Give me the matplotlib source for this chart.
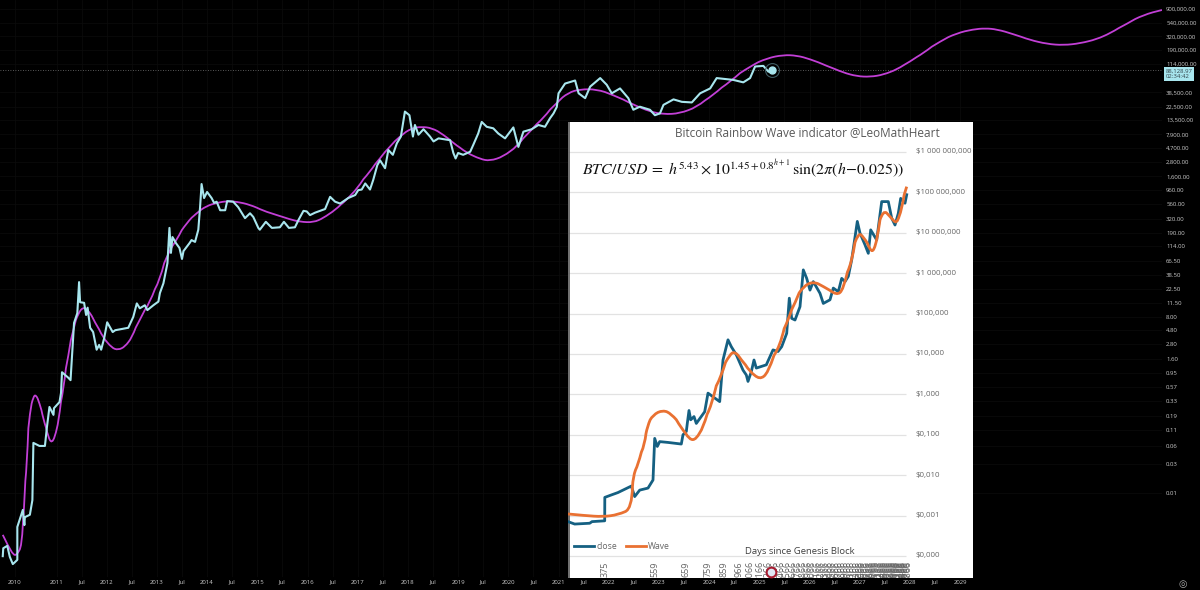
import numpy as np
import matplotlib
matplotlib.use("Agg")
import matplotlib.pyplot as plt
from matplotlib.patches import PathPatch
from matplotlib.path import Path
from matplotlib.transforms import blended_transform_factory

plt.rcParams['font.family'] = ['Open Sans', 'DejaVu Sans']

# main chart: btc close, decimal year / log10 of price
close_year = [2009.93,2009.94,2010.02,2010.07,2010.13,2010.17,2010.22,2010.22,2010.33,2010.36,2010.37,2010.47,2010.52,2010.54,2010.66,2010.77,2010.81,2010.86,2010.94,2010.95,
    2011.06,2011.09,2011.11,2011.235,2011.28,2011.35,2011.415,2011.45,2011.47,2011.55,2011.59,2011.62,2011.67,2011.73,2011.80,2011.85,2011.89,2011.95,
    2012.01,2012.12,2012.17,2012.43,2012.53,2012.60,2012.66,2012.76,2012.81,2012.93,
    2013.03,2013.06,2013.13,2013.21,2013.25,2013.28,2013.31,2013.38,2013.45,2013.50,2013.53,2013.65,2013.69,2013.76,2013.825,2013.86,2013.89,2013.94,
    2014.00,2014.09,2014.14,2014.19,2014.26,2014.36,2014.40,2014.52,2014.62,2014.755,2014.855,2014.92,
    2015.02,2015.05,2015.17,2015.29,2015.45,2015.53,2015.63,2015.75,2015.82,2015.92,2015.985,
    2016.05,2016.15,2016.35,2016.45,2016.55,2016.65,2016.81,2016.95,
    2017.01,2017.08,2017.15,2017.245,2017.31,2017.39,2017.445,2017.545,2017.61,2017.70,2017.78,2017.86,2017.94,
    2018.03,2018.10,2018.14,2018.21,2018.31,2018.44,2018.51,2018.61,2018.84,2018.905,2018.95,
    2019.00,2019.10,2019.24,2019.30,2019.40,2019.47,2019.57,2019.70,2019.80,2019.935,
    2020.10,2020.20,2020.30,2020.465,2020.60,2020.73,2020.83,2020.90,2020.965,
    2021.00,2021.13,2021.33,2021.40,2021.53,2021.63,2021.83,2021.96,
    2022.06,2022.225,2022.39,2022.49,2022.62,2022.82,2022.92,
    2023.02,2023.09,2023.29,2023.455,2023.655,2023.82,
    2024.02,2024.15,2024.48,2024.68,2024.815,2024.915,
    2025.08,2025.18,2025.25]
close_log = [-3.03,-2.90,-2.86,-3.04,-3.16,-3.13,-3.09,-2.55,-2.27,-2.52,-2.39,-2.35,-2.11,-1.17,-1.22,-1.22,-0.91,-0.58,-0.71,-0.60,
    -0.50,-0.35,-0.01,-0.10,-0.14,0.80,0.96,1.47,1.14,1.13,0.93,1.05,0.72,0.65,0.36,0.44,0.36,0.55,
    0.81,0.65,0.68,0.72,0.90,1.12,1.04,1.09,1.01,1.09,
    1.15,1.29,1.45,1.78,2.36,1.95,2.21,2.11,2.03,1.85,1.98,2.11,2.16,2.13,2.33,2.70,3.08,2.85,
    2.95,2.85,2.77,2.79,2.65,2.65,2.80,2.79,2.70,2.52,2.60,2.54,
    2.36,2.33,2.46,2.36,2.37,2.46,2.36,2.37,2.49,2.64,2.63,
    2.57,2.61,2.67,2.87,2.79,2.76,2.85,2.90,
    2.98,2.99,3.09,2.99,3.15,3.39,3.47,3.34,3.64,3.56,3.75,3.86,4.27,
    4.21,3.86,4.05,3.89,3.98,3.86,3.78,3.83,3.80,3.59,3.50,
    3.59,3.56,3.61,3.72,3.91,4.10,4.02,3.995,3.91,3.83,
    4.01,3.69,3.94,3.98,4.05,4.02,4.16,4.24,4.345,
    4.57,4.73,4.78,4.57,4.49,4.68,4.82,4.71,
    4.57,4.65,4.49,4.30,4.35,4.30,4.21,
    4.24,4.38,4.47,4.43,4.42,4.57,
    4.65,4.82,4.79,4.75,4.82,5.01,
    5.02,4.925,4.945]

wave_year = [2009.93,2010.04,2010.14,2010.21,2010.31,2010.35,2010.41,2010.47,2010.54,2010.59,2010.66,2010.74,2010.84,2010.905,2010.97,
    2011.04,2011.14,2011.235,2011.335,2011.435,2011.535,2011.63,2011.77,2011.93,2012.10,2012.23,2012.365,2012.50,2012.66,2012.86,
    2013.06,2013.23,2013.395,2013.595,2013.79,2013.99,2014.19,2014.39,2014.59,2014.855,2015.12,2015.39,2015.65,2015.85,
    2016.12,2016.315,2016.55,2016.78,2016.98,2017.245,2017.445,2017.64,2017.84,2018.08,2018.275,2018.475,2018.705,2018.905,
    2019.17,2019.44,2019.635,2019.90,2020.17,2020.43,2020.70,2020.965,2021.195,2021.43,2021.76,2022.09,2022.49,2022.82,
    2023.09,2023.42,2023.75,2024.08,2024.42,2024.815,2025.15,2025.48,2025.745,2026.01,2026.34,2026.67,2026.94,
    2027.21,2027.47,2027.74,2028.00,2028.27,2028.60,2028.93,2029.26,2029.50,2029.73,2030.06,2030.39,2030.73,
    2031.06,2031.39,2031.72,2031.99,2032.32,2032.65,2033.02]
wave_log = [-2.68,-2.87,-3.01,-3.01,-2.87,-2.32,-1.56,-0.68,-0.41,-0.38,-0.515,-0.79,-1.09,-1.17,-1.07,
    -0.84,-0.30,0.245,0.68,0.96,1.06,1.01,0.80,0.55,0.39,0.355,0.41,0.55,0.85,1.13,
    1.50,1.95,2.16,2.44,2.60,2.72,2.77,2.80,2.79,2.74,2.64,2.57,2.50,2.46,
    2.45,2.52,2.65,2.82,2.99,3.28,3.50,3.69,3.86,4.00,4.02,4.00,3.89,3.75,
    3.59,3.49,3.46,3.53,3.69,3.94,4.16,4.41,4.58,4.636,4.636,4.54,4.38,4.27,
    4.225,4.24,4.34,4.54,4.76,5.01,5.145,5.20,5.19,5.13,5.02,4.91,4.85,
    4.84,4.875,4.96,5.09,5.23,5.42,5.555,5.62,5.637,5.62,5.54,5.445,5.38,
    5.36,5.39,5.457,5.555,5.71,5.856,5.938]

price_ticks = [900000,540000,320000,190000,114000,38500,22500,13500,7900,4700,2800,1600,960,560,320,190,114,66.5,38.5,22.5,13.5,8,4.8,2.8,1.6,0.95,0.57,0.33,0.19,0.11,0.06,0.03,0.01]
price_labels = ['900,000.00','540,000.00','320,000.00','190,000.00','114,000.00','38,500.00','22,500.00','13,500.00','7,900.00','4,700.00','2,800.00','1,600.00','960.00','560.00','320.00','190.00','114.00','66.50','38.50','22.50','11.50','8.00','4.80','2.80','1.60','0.95','0.57','0.33','0.19','0.11','0.06','0.03','0.01']

time_ticks = [2010.17,2011.01,2011.5,2012,2012.5,2013,2013.5,2014,2014.5,2015,2015.5,2016,2016.5,2017,2017.5,2018,2018.5,2019,2019.5,2020,2020.5,2021,2021.5,2022,2022.5,2023,2023.5,2024,2024.5,2025,2025.5,2026,2026.5,2027,2027.5,2028,2028.5,2029]
time_labels = ['2010','2011','Jul','2012','Jul','2013','Jul','2014','Jul','2015','Jul','2016','Jul','2017','Jul','2018','Jul','2019','Jul','2020','Jul','2021','Jul','2022','Jul','2023','Jul','2024','Jul','2025','Jul','2026','Jul','2027','Jul','2028','Jul','2029']

last_year = 2025.25
last_price = 88128.97

# inset: category position on the excel axis / log10 of price
inset_close_pos = [0,6.7,21.7,24,36.7,36.8,43.3,50,63.3,66.7,71.7,80,85,86.7,89.3,91.7,100,113.3,115,118.3,119.3,121,122.7,126,128.3,136.7,140,145,151.7,155,160,163.3,168.3,175,178.3,180,183.3,186,188.3,198.3,205,210,
    213.7,218.7,221.3,223.7,227,232,235.3,238.7,242,245.3,252,255.3,262,265.3,270.3,273.7,277,280.3,283.7,289.3,292,297,300.3,302.7,308.7,313.7,320.3,323.7,327,330.3,332.7,337,338.7]
inset_close_log = [-3.15,-3.21,-3.19,-3.15,-3.13,-2.55,-2.49,-2.43,-2.27,-2.53,-2.37,-2.32,-2.12,-1.09,-1.29,-1.17,-1.19,-1.23,-1.00,-0.92,-0.72,-0.40,-0.63,-0.55,-0.72,-0.43,0.03,-0.06,-0.18,0.85,1.35,1.18,0.98,0.60,0.48,0.32,0.56,0.85,0.65,0.73,1.10,1.06,
    1.18,1.51,2.38,1.88,1.84,2.17,3.08,2.87,2.58,2.79,2.50,2.25,2.34,2.63,2.54,2.87,2.79,2.92,3.33,4.28,3.99,3.70,3.49,4.07,3.82,4.77,4.77,4.36,4.19,4.48,4.85,4.73,4.94]
inset_wave_pos = [0,16.7,35,50,64,65,70,76.7,79.3,85,95,103.3,113.3,121.7,128.3,135,143.3,153.3,161.7,166.7,173.3,181.7,191.7,200,212,220.3,227,235.3,245.3,255.3,268.7,275.3,283.7,290.3,295.3,303.7,308.7,315.3,322,328.7,333.7,338.7]
inset_wave_log = [-2.96,-3.0,-3.03,-2.98,-2.84,-2.04,-1.75,-1.25,-0.80,-0.51,-0.39,-0.485,-0.84,-1.13,-1.11,-0.84,-0.30,0.44,0.98,1.06,0.85,0.56,0.36,0.52,1.18,1.84,2.255,2.67,2.79,2.67,2.445,2.585,3.245,3.99,3.905,3.45,3.74,4.56,4.40,4.19,4.56,5.14]

inset_ticks = [1e6,1e5,1e4,1e3,1e2,1e1,1,0.1,0.01,0.001,0.0001]
inset_tick_labels = ['$1 000 000,000','$100 000,000','$10 000,000','$1 000,000','$100,000','$10,000','$1,000','$0,100','$0,010','$0,001','$0,000']

day_labels = [375,559,659,759,859,966,1066,1166]
day_pos = [37,87,118,140,156,171,182,192]
later_days = list(range(1266,5900,100))

close_color = '#a8e6ee'
wave_color = '#c23fd6'


def smooth_curve(ax, xs, logs, **kw):
    # draws the points as a rounded line, curve segments between midpoints
    v = np.column_stack([xs, 10**np.array(logs)])
    mids = (v[:-1] + v[1:]) / 2
    verts = [v[0]]
    codes = [Path.MOVETO]
    for i in range(1, len(v) - 1):
        verts += [v[i], mids[i]]
        codes += [Path.CURVE3, Path.CURVE3]
    verts.append(v[-1])
    codes.append(Path.LINETO)
    ax.add_patch(PathPatch(Path(verts, codes), fc='none', **kw))


fig = plt.figure(figsize=(12, 5.9), dpi=100, facecolor='black')

# main chart, pixel box 0-1162 / 0-577
ax = fig.add_axes([0, 13/590, 1162/1200, 577/590], facecolor='black', zorder=1)
ax.set_yscale('log')
ax.set_xlim(2009.875, 2033.02)
ax.set_ylim(10**-3.372, 10**6.102)
smooth_curve(ax, wave_year, wave_log, ec=wave_color, lw=1.3, zorder=3)
ax.plot(close_year, 10**np.array(close_log), color=close_color, lw=1.5, zorder=4)
ax.plot([last_year], [last_price], 'o', ms=5, color=close_color, zorder=5)
ax.plot([last_year], [last_price], 'o', ms=10, mfc='none', mec='#3d5a60', mew=0.8, zorder=5)
ax.axhline(last_price, color='#777777', lw=0.6, ls=(0, (1, 2)), zorder=2)

ax.yaxis.tick_right()
ax.set_yticks(price_ticks)
ax.set_yticklabels(price_labels)
ax.minorticks_off()
ax.set_xticks(time_ticks)
ax.set_xticklabels(time_labels)
ax.tick_params(axis='y', length=0, pad=3, labelsize=4.3, labelcolor='#cccccc')
ax.tick_params(axis='x', length=0, pad=2, labelsize=4.3, labelcolor='#cccccc')
ax.grid(True, color='#0c0c0c', lw=0.5)
ax.set_axisbelow(True)
for s in ax.spines.values():
    s.set_visible(False)

# price box on the right edge
trans = blended_transform_factory(ax.transAxes, ax.transData)
ax.text(1.003, last_price*1.06, '88,128.97\n02:34:42', transform=trans, ha='left', va='top', fontsize=4.3,
        color='#33444a', linespacing=1.1, clip_on=False, zorder=6,
        bbox=dict(facecolor=close_color, edgecolor='none', pad=1.2))

# excel inset, pixel box 568-973 / 122-578
ins = fig.add_axes([568/1200, 12/590, 405/1200, 456/590], facecolor='white', zorder=3)
ins.set_yscale('log')
ins.set_xlim(0, 405)
ins.set_ylim(10**-4.545, 10**6.74)
ins.hlines(inset_ticks, 0, 338, color='#e2e2e2', lw=0.9, zorder=1)
ins.plot(inset_close_pos, 10**np.array(inset_close_log), color='#156082', lw=2.0, zorder=3, solid_joinstyle='round')
smooth_curve(ins, inset_wave_pos, inset_wave_log, ec='#e97132', lw=2.0, zorder=4)
ins.plot([], [], color='#156082', lw=2.0, label='close')
ins.plot([], [], color='#e97132', lw=2.0, label='Wave')
for v, lab in zip(inset_ticks, inset_tick_labels):
    ins.text(348, v, lab.replace('$', r'\$'), fontsize=5.7, color='#666666', va='center', ha='left')
ins.set_xticks([])
ins.set_yticks([])
ins.minorticks_off()
for s in ins.spines.values():
    s.set_visible(False)
ins.axvline(0.6, color='#555555', lw=1.2)

ins.text(239.5, 10**6.49, 'Bitcoin Rainbow Wave indicator @LeoMathHeart', fontsize=8.5, color='#595959', ha='center', va='center')
ins.text(175, 10**5.58, r'$BTC/USD\;=\;h^{5.43}\times10^{1.45+0.8^{h+1}}\,\mathrm{sin}(2\pi(h\!-\!0.025))$',
         fontsize=11.4, math_fontfamily='stix', color='#111111', ha='center', va='center')
ins.text(232, 10**-3.88, 'Days since Genesis Block', fontsize=6.8, color='#404040', ha='center', va='center')
ins.legend(loc='lower left', bbox_to_anchor=(0.0, 0.045), frameon=False, ncol=2, fontsize=6.2,
           labelcolor='#666666', handlelength=2.3, columnspacing=1.0, handletextpad=0.3, borderpad=0.2)

# day labels along the inset bottom, cut off by its edge
y_days = 10**-4.13
for d, p in zip(day_labels, day_pos):
    lab = f'{d:,}' if d > 1000 else str(d)
    ins.text(p, y_days, lab, rotation=90, fontsize=6.5, color='#666666', ha='center', va='top', clip_on=True)
for d in later_days:
    p = 192 + 211*np.log10(d/1166)
    ins.text(p, y_days, f'{d:,}', rotation=90, fontsize=6.5, color='#666666', ha='center', va='top', clip_on=True)
ins.plot([203], [10**-4.4], 'o', ms=7, mfc='#dfe8f5', mec='#a81c30', mew=1.5, zorder=6)

fig.text(1183/1200, 1-585/590, '\u25CE', color='#aaaaaa', fontsize=7, ha='center', va='center')

fig.savefig('out.png', facecolor='black')
